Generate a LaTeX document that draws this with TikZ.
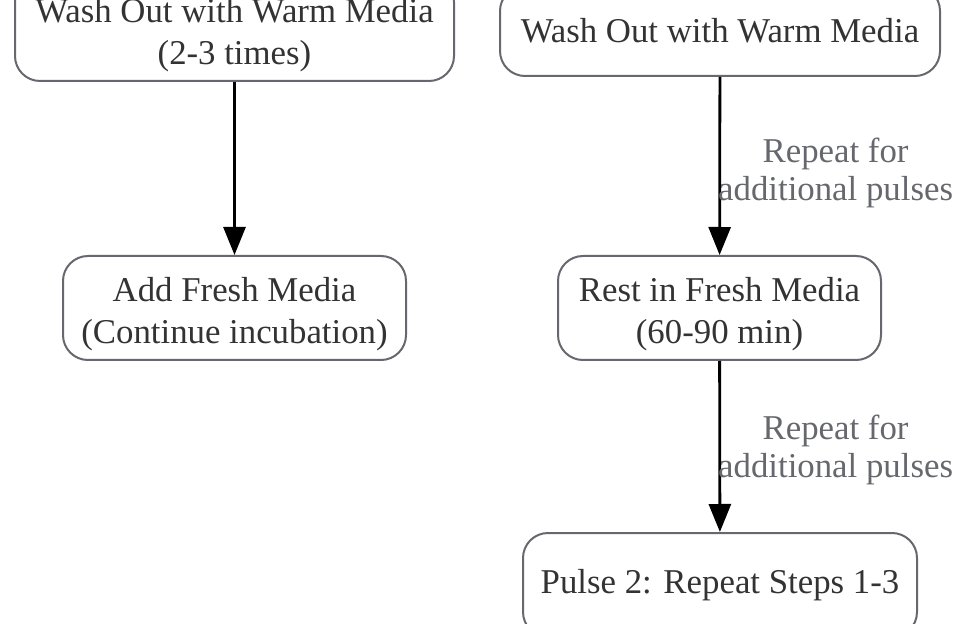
\documentclass[tikz,border=0pt]{standalone}
\usepackage{fontspec}
\setmainfont{Liberation Serif}
\usetikzlibrary{arrows.meta,positioning}

\definecolor{boxgray}{RGB}{102,104,110}
\definecolor{textdark}{RGB}{51,51,51}

\newcommand{\LeftCol}{234.5}
\newcommand{\RightCol}{720}
\newcommand{\BoxH}{52pt}

\begin{document}
\begin{tikzpicture}[
  x = 0.5pt, y = -0.5pt,
  step box/.style={draw=boxgray, line width=1pt, rounded corners=12.5pt, fill=white,
    text=textdark, align=center, inner sep=0pt, minimum height=\BoxH,
    font=\fontsize{17.4}{21}\selectfont},
  two lines/.style={text height=39pt},
  flow/.style={-{Triangle[length=14pt,width=11pt]}, line width=1.4pt, black},
  repeatlbl/.style={text=boxgray, align=center, inner sep=0pt,
    font=\fontsize{17.4}{19}\selectfont}
  ]

	%fix the visible frame
	\clip (0,0) rectangle (972,624);

	%draw the left column
	\node[step box, two lines, minimum width=219.5pt] (washa) at (\LeftCol,29) {Wash Out with Warm Media\\(2-3 times)};
	\node[step box, two lines, minimum width=171.5pt] (fresh) at (\LeftCol,308) {Add Fresh Media\\(Continue incubation)};

	%draw the right column
	\node[step box, minimum width=220pt, minimum height=45pt] (washb) at (\RightCol,31) {Wash Out with Warm Media};
	\node[step box, two lines, minimum width=161.5pt] (rest) at (719.5,308) {Rest in Fresh Media\\(60-90 min)};
	\node[step box, minimum width=197pt] (pulse) at (\RightCol,585) {Pulse 2: Repeat Steps 1-3};

	%draw the arrows
	\draw[flow] (washa) -- (fresh);
	\draw[flow] (washb) -- node[repeatlbl, pos=0.54, right=-1.5pt] (lbla) {Repeat for\\additional pulses} (rest);
	\draw[flow] (rest) -- node[repeatlbl, pos=0.52, right=-1.5pt] (lblb) {Repeat for\\additional pulses} (pulse);

\end{tikzpicture}
\end{document}
